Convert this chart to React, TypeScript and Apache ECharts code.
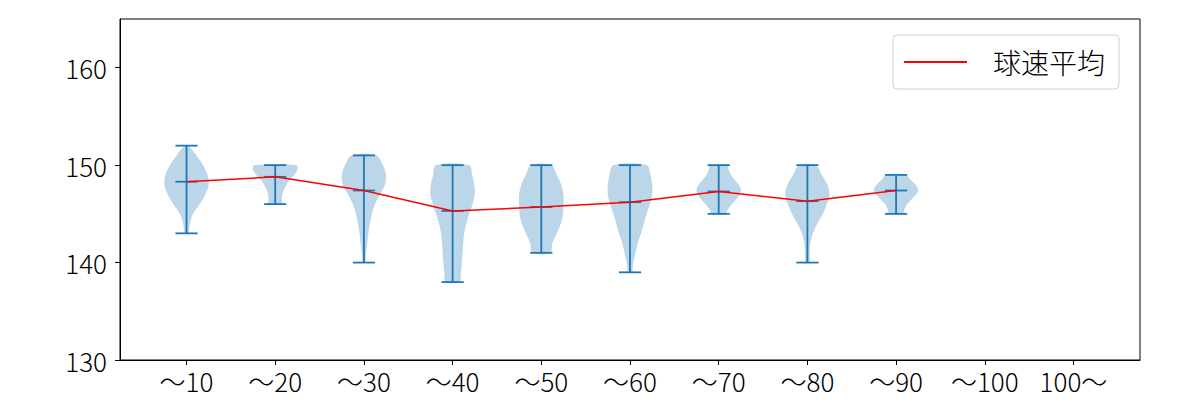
import React, { useEffect, useRef } from "react";
import * as echarts from "echarts";

const categories = ["～10", "～20", "～30", "～40", "～50", "～60", "～70", "～80", "～90", "～100", "100～"];
const positions = [1, 2, 3, 4, 5, 6, 7, 8, 9];
const mins = [143, 146, 140, 138, 141, 139, 145, 140, 145];
const maxs = [152, 150, 151, 150, 150, 150, 150, 150, 149];
const means = [148.3, 148.8, 147.4, 145.3, 145.7, 146.2, 147.3, 146.3, 147.4];

// violin density profiles: value levels and relative half-widths
const profileValues: number[][] = [
  [143, 144, 145, 146, 147, 148, 149, 150, 151, 152],
  [146, 146.5, 147, 147.5, 148, 148.5, 149, 149.5, 150],
  [140, 141, 142, 143, 144, 145, 146, 147, 148, 149, 150, 151],
  [138, 139, 140, 141, 142, 143, 144, 145, 146, 147, 148, 149, 150],
  [141, 142, 143, 144, 145, 146, 147, 148, 149, 150],
  [139, 140, 141, 142, 143, 144, 145, 146, 147, 148, 149, 150],
  [145, 145.5, 146, 146.5, 147, 147.5, 148, 148.5, 149, 149.5, 150],
  [140, 141, 142, 143, 144, 145, 146, 147, 148, 149, 150],
  [145, 145.5, 146, 146.5, 147, 147.5, 148, 148.5, 149],
];
const profileWidths: number[][] = [
  [0.08, 0.15, 0.3, 0.6, 0.85, 1.0, 0.95, 0.75, 0.45, 0.08],
  [0.3, 0.3, 0.32, 0.4, 0.5, 0.65, 0.85, 1.0, 0.95],
  [0.05, 0.1, 0.15, 0.2, 0.27, 0.36, 0.5, 0.72, 0.95, 1.0, 0.85, 0.55],
  [0.3, 0.38, 0.42, 0.45, 0.48, 0.52, 0.62, 0.75, 0.9, 1.0, 0.98, 0.88, 0.75],
  [0.4, 0.5, 0.7, 0.88, 0.98, 1.0, 1.0, 0.9, 0.7, 0.45],
  [0.08, 0.15, 0.25, 0.35, 0.5, 0.62, 0.75, 0.9, 1.0, 1.0, 0.92, 0.75],
  [0.3, 0.42, 0.6, 0.8, 0.95, 1.0, 0.9, 0.72, 0.55, 0.45, 0.4],
  [0.08, 0.1, 0.14, 0.25, 0.45, 0.7, 0.88, 1.0, 0.9, 0.65, 0.36],
  [0.3, 0.38, 0.5, 0.7, 0.9, 1.0, 0.88, 0.65, 0.45],
];
const yTicks = [130, 140, 150, 160];
const xTicks = [1, 2, 3, 4, 5, 6, 7, 8, 9, 10, 11];
const seriesName = "球速平均";

const FONT = "Noto Sans CJK JP";
const BLUE = "#1f77b4";
const HALF = 0.25;
const CAP = 0.125;

export default function App() {
  const ref = useRef<HTMLDivElement>(null);
  useEffect(() => {
    if (!ref.current) return;
    const chart = echarts.init(ref.current, null, { renderer: "svg" });
    chart.setOption({
      animation: false,
      backgroundColor: "#fff",
      grid: { left: 120, right: 60, top: 19, bottom: 40, show: true, borderColor: "#000", borderWidth: 1 },
      legend: {
        left: 893,
        top: 35,
        padding: [12, 14, 12, 11],
        borderColor: "#d0d0d0",
        borderWidth: 1,
        borderRadius: 4,
        icon: "rect",
        itemWidth: 63,
        itemHeight: 2,
        textStyle: { fontFamily: FONT, fontSize: 28, fontWeight: 300, lineHeight: 30, color: "#000", padding: [0, 0, 0, 21] },
        data: [seriesName],
      },
      xAxis: {
        type: "value",
        min: 0.25,
        max: 11.75,
        axisLine: { onZero: false, lineStyle: { color: "#000", width: 1 } },
        axisTick: { show: true, length: 5, customValues: xTicks, lineStyle: { color: "#000" } },
        axisLabel: {
          customValues: xTicks,
          formatter: (v: number) => categories[Math.round(v) - 1] ?? "",
          fontFamily: FONT,
          fontWeight: 300,
          fontSize: 26,
          color: "#000",
          margin: 7,
        },
        splitLine: { show: false },
      },
      yAxis: {
        type: "value",
        min: 130,
        max: 165,
        axisLine: { show: true, lineStyle: { color: "#000", width: 1 } },
        axisTick: { show: true, length: 5, customValues: yTicks, lineStyle: { color: "#000" } },
        axisLabel: { customValues: yTicks, fontFamily: FONT, fontWeight: 300, fontSize: 26, color: "#000", margin: 13 },
        splitLine: { show: false },
      },
      series: [
        {
          type: "custom",
          name: "violin",
          clip: true,
          data: positions.map((p, i) => [p, means[i]]),
          renderItem: (params: any, api: any) => {
            const i = params.dataIndex;
            const vals = profileValues[i];
            const ws = profileWidths[i];
            const x = positions[i];
            const left = vals.map((v, k) => api.coord([x - ws[k] * HALF, v]));
            const right = vals.map((v, k) => api.coord([x + ws[k] * HALF, v])).reverse();
            return {
              type: "polygon",
              shape: { points: [...left, ...right], smooth: 0.35 },
              style: { fill: "rgba(31,119,180,0.3)", stroke: "none" },
            };
          },
        },
        {
          type: "custom",
          name: "whisker",
          clip: true,
          z: 3,
          data: positions.map((p, i) => [p, mins[i], maxs[i], means[i]]),
          renderItem: (params: any, api: any) => {
            const x = api.value(0);
            const lo = api.value(1);
            const hi = api.value(2);
            const mu = api.value(3);
            const st = { stroke: BLUE, lineWidth: 1.8 };
            const seg = (x1: number, y1: number, x2: number, y2: number) => {
              const a = api.coord([x1, y1]);
              const b = api.coord([x2, y2]);
              return { type: "line", shape: { x1: a[0], y1: a[1], x2: b[0], y2: b[1] }, style: st };
            };
            return {
              type: "group",
              children: [
                seg(x, lo, x, hi),
                seg(x - CAP, lo, x + CAP, lo),
                seg(x - CAP, hi, x + CAP, hi),
                seg(x - CAP, mu, x + CAP, mu),
              ],
            };
          },
        },
        {
          type: "line",
          name: seriesName,
          z: 4,
          data: positions.map((p, i) => [p, means[i]]),
          symbol: "none",
          lineStyle: { color: "#ff0000", width: 1.5 },
          itemStyle: { color: "#ff0000" },
        },
      ],
    });
    return () => chart.dispose();
  }, []);
  return <div ref={ref} style={{ position: "fixed", left: 0, top: 0, width: 1200, height: 400 }} />;
}
